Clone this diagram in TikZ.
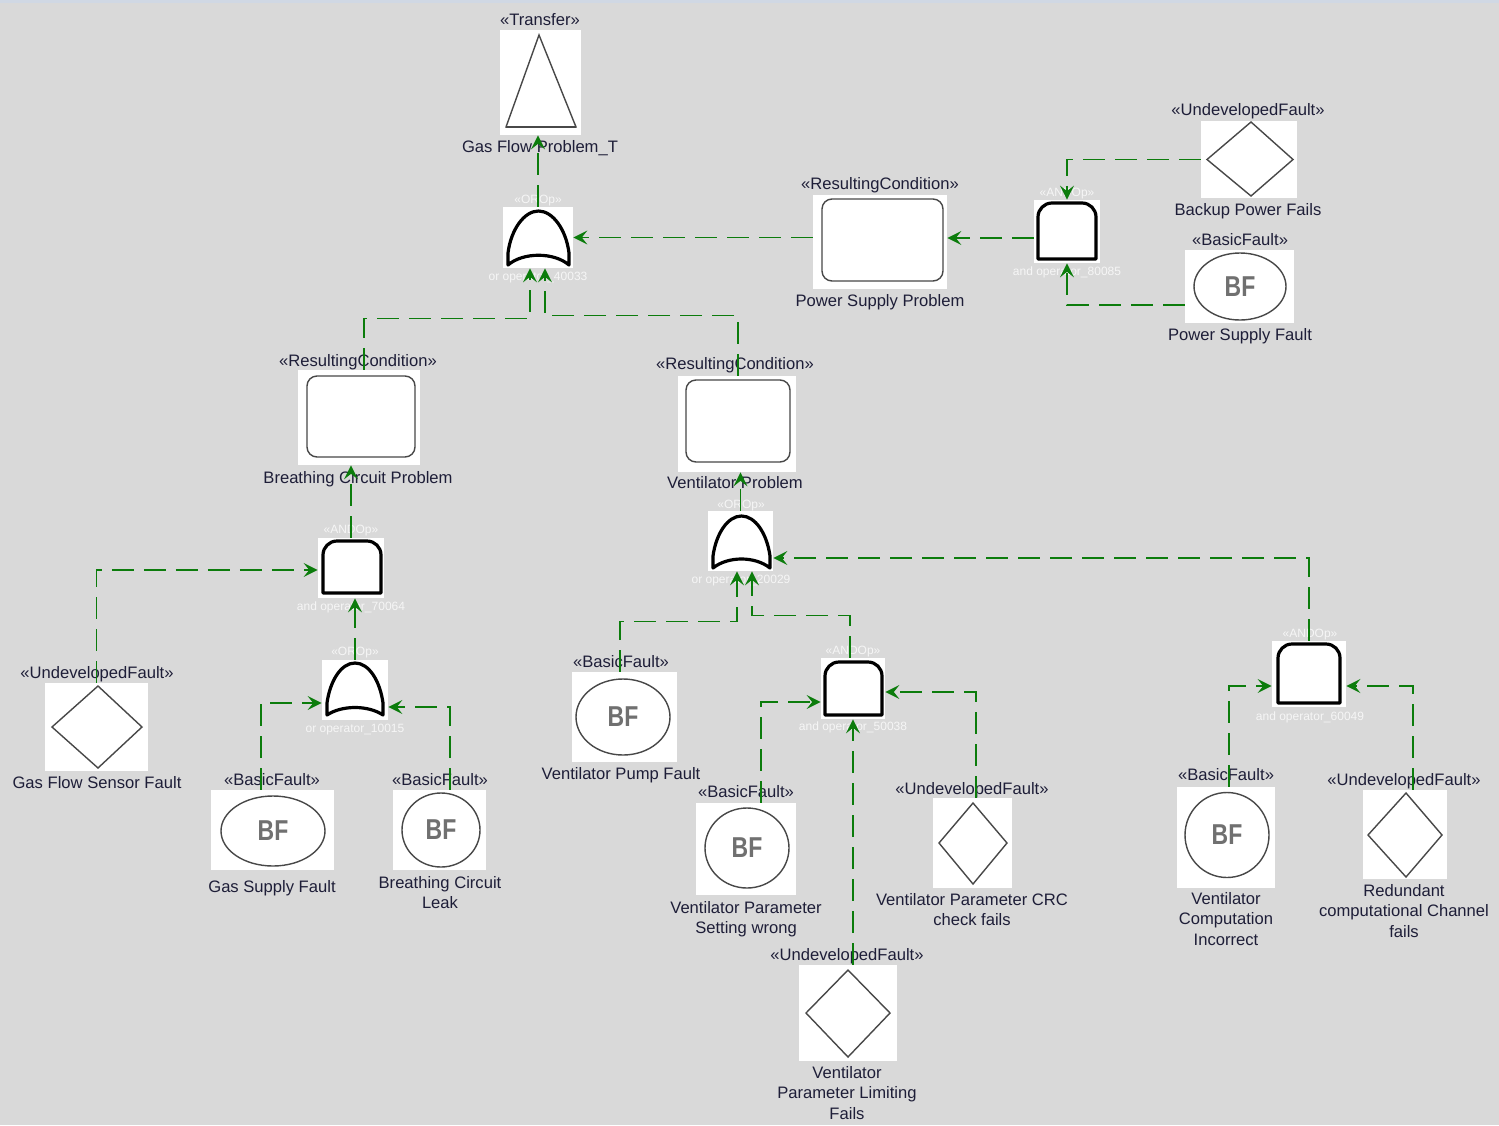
\documentclass[tikz,border=0pt]{standalone}
\usepackage{fontspec}
\usepackage{graphicx}
\setmainfont{Liberation Sans}
\usetikzlibrary{arrows.meta,calc,fit,shapes.geometric}

\definecolor{canvas}{RGB}{217,217,217}
\definecolor{topband}{RGB}{208,216,228}
\definecolor{ink}{RGB}{30,30,56}
\definecolor{wire}{RGB}{12,124,12}
\definecolor{outline}{RGB}{72,72,72}
\definecolor{bfgray}{RGB}{112,112,112}
\definecolor{oplabel}{RGB}{246,246,246}

% OR gate symbol: x0, x1, apex y, base y, y of the raised middle of the base
\newcommand\orshape[5]{%
  \pgfmathsetmacro\gatemid{(#1+#2)/2}%
  \draw[gateline] (#1,#4) -- (#1,#4-12)
    .. controls (#1+3,#3+18) and (\gatemid-14,#3) .. (\gatemid,#3)
    .. controls (\gatemid+14,#3) and (#2-3,#3+18) .. (#2,#4-12)
    -- (#2,#4) .. controls (#2-15,#5-3) and (#1+15,#5-3) .. (#1,#4) -- cycle;}
% AND gate symbol: x0, x1, top y, base y
\newcommand\andshape[4]{%
  \draw[gateline] (#1,#4) [rounded corners=7pt] -- (#1,#3) -- (#2,#3) [sharp corners] -- (#2,#4) -- cycle;}

\begin{document}
\begin{tikzpicture}[x=0.5pt,y=-0.5pt,
  wbox/.style={fill=white,draw=none,inner sep=0pt},
  stereo/.style={anchor=north,inner sep=0pt,text=ink,font=\fontsize{8.3}{10.2}\selectfont},
  caption/.style={anchor=north,inner sep=0pt,text=ink,align=center,font=\fontsize{8.3}{10.2}\selectfont},
  oplbl/.style={anchor=north,inner sep=0pt,text=oplabel,font=\fontsize{6}{7}\selectfont},
  gateline/.style={draw=black,line width=1.6pt,fill=white,line join=round},
  outl/.style={draw=outline,line width=0.7pt},
  cond/.style={outl,rounded corners=5pt},
  bfnode/.style={ellipse,draw=outline,line width=0.7pt,inner sep=0pt,text=bfgray,font=\bfseries\fontsize{11.5}{12}\selectfont},
  conn/.style={draw=wire,line width=0.7pt,dash pattern=on 11pt off 5pt,-{Stealth[length=7pt,width=7pt,inset=2.8pt]}},
]
\useasboundingbox (0,0) rectangle (1499,1125);
\fill[canvas] (0,0) rectangle (1499,1125);
\fill[topband] (0,0) rectangle (1499,3);

% ---------- element frames ----------
\node[wbox,fit={(500,30) (581,135)}] (tr) {};
\node[wbox,fit={(503,207) (573,268)}] (g1) {};
\node[wbox,fit={(813,195) (947,289)}] (psp) {};
\node[wbox,fit={(1034,200) (1100,263)}] (g2) {};
\node[wbox,fit={(1201,121) (1297,198)}] (bpf) {};
\node[wbox,fit={(1185,250) (1294,323)}] (psf) {};
\node[wbox,fit={(298,370) (420,465)}] (bcp) {};
\node[wbox,fit={(678,376) (796,472)}] (vp) {};
\node[wbox,fit={(318,538) (384,598)}] (g3) {};
\node[wbox,fit={(45,683) (148,771)}] (gfsf) {};
\node[wbox,fit={(322,660) (388,720)}] (g4) {};
\node[wbox,fit={(211,790) (334,870)}] (gsf) {};
\node[wbox,fit={(393,790) (486,870)}] (bcl) {};
\node[wbox,fit={(708,511) (773,571)}] (g5) {};
\node[wbox,fit={(572,672) (677,762)}] (vpf) {};
\node[wbox,fit={(821,658) (885,719)}] (g6) {};
\node[wbox,fit={(696,803) (796,895)}] (vpsw) {};
\node[wbox,fit={(933,798) (1012,888)}] (crc) {};
\node[wbox,fit={(799,965) (897,1061)}] (lim) {};
\node[wbox,fit={(1272,641) (1346,707)}] (g7) {};
\node[wbox,fit={(1177,787) (1275,888)}] (vci) {};
\node[wbox,fit={(1363,790) (1447,879)}] (rcc) {};

% ---------- symbols ----------
% transfer triangle
\draw[outl] (539,35) -- (576,127) -- (506,127) -- cycle;
\draw[outl,line width=1.1pt] (506,127) -- (576,127);
% gates
\orshape{508}{569}{211}{265}{255}
\andshape{1038}{1096}{203}{259}
\andshape{323}{381}{541}{593}
\orshape{327}{383}{663}{715}{708}
\orshape{713}{770}{516}{568}{559}
\andshape{825}{882}{662}{715}
\andshape{1278}{1340}{644}{703}
% resulting conditions
\draw[cond] (822,199) rectangle (943,281);
\draw[cond] (307,376) rectangle (415,457);
\draw[cond] (686,380) rectangle (790,462);
% undeveloped faults
\draw[outl] (1207,159.5) -- (1251,122) -- (1293,159.5) -- (1251,196) -- cycle;
\draw[outl] (52,727) -- (98,686) -- (142,727) -- (98,768) -- cycle;
\draw[outl] (939,843) -- (973,803) -- (1007,843) -- (973,884) -- cycle;
\draw[outl] (806,1013) -- (848,970) -- (890,1013) -- (848,1057) -- cycle;
\draw[outl] (1368,835) -- (1406,793) -- (1442,835) -- (1406,877) -- cycle;
% basic faults
\node[bfnode,minimum width=46pt,minimum height=33.5pt] (psf-e) at (1240,286.5) {\scalebox{1}[1.25]{BF}};
\node[bfnode,minimum width=52pt,minimum height=35pt] (gsf-e) at (273,831) {\scalebox{1}[1.25]{BF}};
\node[bfnode,minimum width=39pt,minimum height=37pt] (bcl-e) at (441,830) {\scalebox{1}[1.25]{BF}};
\node[bfnode,minimum width=47pt,minimum height=38pt] (vpf-e) at (623,717) {\scalebox{1}[1.25]{BF}};
\node[bfnode,minimum width=42pt,minimum height=40pt] (vpsw-e) at (747,848) {\scalebox{1}[1.25]{BF}};
\node[bfnode,minimum width=42pt,minimum height=42.5pt] (vci-e) at (1227,835) {\scalebox{1}[1.25]{BF}};

% ---------- labels ----------
\node[stereo] (tr-s) at (540,13) {«Transfer»};
\node[caption] (tr-n) at (540,140) {Gas Flow Problem\_T};
\node[oplbl] (g1-s) at (538,194.7) {«OROp»};
\node[oplbl] (g1-n) at (538,271.7) {or operator\_40033};
\node[stereo] (psp-s) at (880,177) {«ResultingCondition»};
\node[caption] (psp-n) at (880,294) {Power Supply Problem};
\node[oplbl] (g2-s) at (1067,187.7) {«ANDOp»};
\node[oplbl] (g2-n) at (1067,266.7) {and operator\_80085};
\node[stereo] (bpf-s) at (1248,103) {«UndevelopedFault»};
\node[caption] (bpf-n) at (1248,203) {Backup Power Fails};
\node[stereo] (psf-s) at (1240,233) {«BasicFault»};
\node[caption] (psf-n) at (1240,328) {Power Supply Fault};
\node[stereo] (bcp-s) at (358,354) {«ResultingCondition»};
\node[caption] (bcp-n) at (358,471) {Breathing Circuit Problem};
\node[stereo] (vp-s) at (735,357) {«ResultingCondition»};
\node[caption] (vp-n) at (735,476) {Ventilator Problem};
\node[oplbl] (g3-s) at (351,524.7) {«ANDOp»};
\node[oplbl] (g3-n) at (351,601.7) {and operator\_70064};
\node[stereo] (gfsf-s) at (97,666) {«UndevelopedFault»};
\node[caption] (gfsf-n) at (97,776) {Gas Flow Sensor Fault};
\node[oplbl] (g4-s) at (355,646.7) {«OROp»};
\node[oplbl] (g4-n) at (355,723.7) {or operator\_10015};
\node[stereo] (gsf-s) at (272,773) {«BasicFault»};
\node[caption] (gsf-n) at (272,880) {Gas Supply Fault};
\node[stereo] (bcl-s) at (440,773) {«BasicFault»};
\node[caption] (bcl-n) at (440,876) {Breathing Circuit\\Leak};
\node[oplbl] (g5-s) at (741,499.7) {«OROp»};
\node[oplbl] (g5-n) at (741,574.7) {or operator\_20029};
\node[stereo] (vpf-s) at (621,655) {«BasicFault»};
\node[caption] (vpf-n) at (621,767) {Ventilator Pump Fault};
\node[oplbl] (g6-s) at (853,645.7) {«ANDOp»};
\node[oplbl] (g6-n) at (853,721.7) {and operator\_50038};
\node[stereo] (vpsw-s) at (746,785) {«BasicFault»};
\node[caption] (vpsw-n) at (746,901) {Ventilator Parameter\\Setting wrong};
\node[stereo] (crc-s) at (972,782) {«UndevelopedFault»};
\node[caption] (crc-n) at (972,893) {Ventilator Parameter CRC\\check fails};
\node[stereo] (lim-s) at (847,948) {«UndevelopedFault»};
\node[caption] (lim-n) at (847,1066) {Ventilator\\Parameter Limiting\\Fails};
\node[oplbl] (g7-s) at (1310,628.7) {«ANDOp»};
\node[oplbl] (g7-n) at (1310,711.7) {and operator\_60049};
\node[stereo] (vci-s) at (1226,768) {«BasicFault»};
\node[caption] (vci-n) at (1226,892) {Ventilator\\Computation\\Incorrect};
\node[stereo] (rcc-s) at (1404,773) {«UndevelopedFault»};
\node[caption] (rcc-n) at (1404,884) {Redundant\\computational Channel\\fails};

% ---------- connectors ----------
\coordinate (g2out) at ($(g2.west)+(0,6.5)$);
\draw[conn] (g1.north) -- (g1.north |- tr.south);
\draw[conn] (g1.east -| psp.west) -- (g1.east);
\draw[conn] (g2out) -- (g2out -| psp.east);
\draw[conn] (bpf.west) -| (g2.north);
\draw[conn] ($(psf.west)+(0,18.5)$) -| (g2.south);
\draw[conn] ($(bcp.north)+(5,0)$) -- ++(0,-51) -| ($(g1.south)+(-8,0)$);
\draw[conn] ($(vp.north)+(1,0)$) -- ++(0,-60) -| ($(g1.south)+(7,0)$);
\draw[conn] (g3.north) -- (g3.north |- bcp.south);
\draw[conn] (gfsf.north) |- ($(g3.west)+(0,2)$);
\draw[conn] (g4.north) -- (g4.north |- g3.south);
\draw[conn] ($(gsf.north)+(-11.5,0)$) |- ($(g4.west)+(0,13)$);
\draw[conn] ($(bcl.north)+(10.5,0)$) |- ($(g4.east)+(0,17)$);
\draw[conn] (g5.north) -- (g5.north |- vp.south);
\draw[conn] ($(vpf.north)+(-4.5,0)$) -- ++(0,-50) -| ($(g5.south)+(-3.5,0)$);
\draw[conn] ($(g6.north)+(-3,0)$) -- ++(0,-42) -| ($(g5.south)+(11.5,0)$);
\draw[conn] ($(vpsw.north)+(15,0)$) |- ($(g6.west)+(0,13.5)$);
\draw[conn] ($(crc.north)+(3.5,0)$) |- ($(g6.east)+(0,3.5)$);
\draw[conn] (g6.south |- lim.north) -- (g6.south);
\draw[conn] (g7.north) |- ($(g5.east)+(0,17)$);
\draw[conn] ($(vci.north)+(3,0)$) |- ($(g7.west)+(0,12)$);
\draw[conn] ($(rcc.north)+(8,0)$) |- ($(g7.east)+(0,12)$);
\end{tikzpicture}
\end{document}
